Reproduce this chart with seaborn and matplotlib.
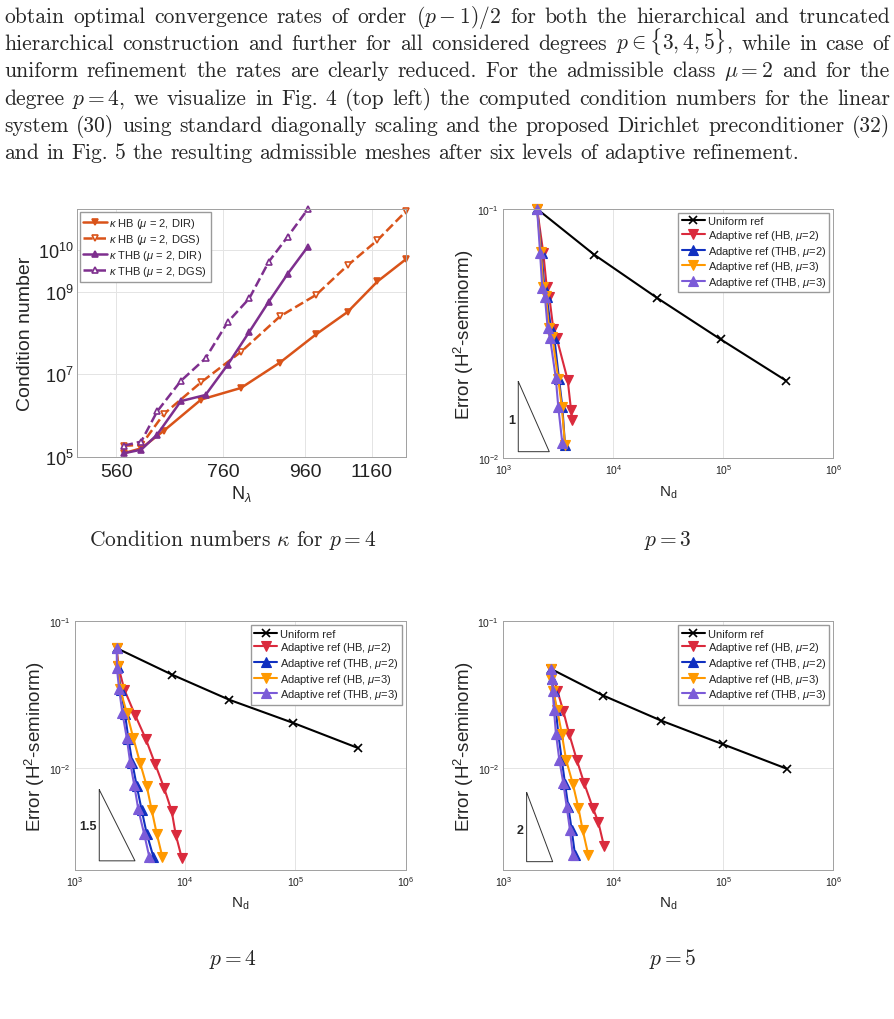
import re

import matplotlib
matplotlib.use("Agg")
import matplotlib.pyplot as plt
import seaborn as sns

# ---------------------------------------------------------------------------
# Condition numbers for p = 4 (top left)
# ---------------------------------------------------------------------------
n_lambda_hb = [572, 601, 641, 713, 799, 893, 990, 1083, 1179, 1278]
n_lambda_thb = [572, 601, 629, 673, 722, 769, 818, 865, 913, 967]
kappa_hb_dir = [1.2e5, 1.58e5, 4.2e5, 2.4e6, 4.6e6, 1.9e7, 9.2e7, 3.2e8, 1.75e9, 6.0e9]
kappa_hb_dgs = [1.83e5, 1.9e5, 1.07e6, 6.3e6, 3.45e7, 2.5e8, 8.3e8, 4.3e9, 1.75e10, 8.7e10]
kappa_thb_dir = [1.2e5, 1.46e5, 3.4e5, 2.2e6, 3.1e6, 1.67e7, 1.05e8, 5.7e8, 2.7e9, 1.23e10]
kappa_thb_dgs = [1.83e5, 2.3e5, 1.24e6, 6.8e6, 2.4e7, 1.8e8, 6.8e8, 5.3e9, 2.15e10, 1.0e11]

# ---------------------------------------------------------------------------
# H2-seminorm errors, p = 3
# ---------------------------------------------------------------------------
uni_n_p3 = [2030, 6700, 24800, 94600, 371500]
uni_e_p3 = [0.1, 0.0656, 0.0441, 0.0300, 0.0205]
hb2_n_p3 = [2030, 2310, 2480, 2620, 2850, 3060, 3850, 4130, 4240]
hb2_e_p3 = [0.1, 0.0666, 0.0488, 0.0445, 0.0330, 0.0303, 0.0206, 0.0156, 0.0142]
thb2_n_p3 = [2030, 2230, 2360, 2480, 2710, 2910, 3210, 3440, 3640]
thb2_e_p3 = [0.1, 0.0666, 0.0485, 0.0445, 0.0333, 0.0304, 0.0208, 0.0161, 0.0113]
hb3_n_p3 = [2030, 2200, 2310, 2440, 2600, 2790, 3160, 3400, 3640]
hb3_e_p3 = [0.1, 0.0670, 0.0485, 0.0449, 0.0333, 0.0306, 0.0208, 0.0161, 0.0113]
thb3_n_p3 = [2030, 2160, 2260, 2390, 2530, 2660, 3000, 3160, 3440]
thb3_e_p3 = [0.1, 0.0666, 0.0482, 0.0445, 0.0333, 0.0304, 0.0210, 0.0161, 0.0115]

# p = 4
uni_n_p4 = [2390, 7540, 25100, 95700, 372000]
uni_e_p4 = [0.0655, 0.0433, 0.0291, 0.0202, 0.0136]
hb2_n_p4 = [2390, 2470, 2800, 3500, 4380, 5320, 6420, 7540, 8200, 9300]
hb2_e_p4 = [0.0655, 0.0493, 0.0342, 0.0230, 0.01576, 0.01065, 0.0073, 0.00504, 0.00349, 0.00242]
thb2_n_p4 = [2390, 2440, 2610, 2840, 3050, 3310, 3630, 4030, 4470, 5140]
thb2_e_p4 = [0.0655, 0.0486, 0.0342, 0.0233, 0.01576, 0.01082, 0.0075, 0.00512, 0.00355, 0.00246]
hb3_n_p4 = [2390, 2440, 2560, 2950, 3380, 3890, 4470, 4970, 5510, 6200]
hb3_e_p4 = [0.0655, 0.0493, 0.0346, 0.0237, 0.01594, 0.01082, 0.0075, 0.00512, 0.00355, 0.00246]
thb3_n_p4 = [2390, 2400, 2510, 2690, 2950, 3160, 3450, 3750, 4230, 4720]
thb3_e_p4 = [0.0655, 0.0478, 0.0346, 0.0237, 0.01594, 0.01094, 0.00757, 0.0052, 0.00355, 0.00246]

# p = 5
uni_n_p5 = [2710, 8110, 27100, 100000, 377000]
uni_e_p5 = [0.0473, 0.0311, 0.0210, 0.01442, 0.00984]
hb2_n_p5 = [2710, 3100, 3510, 3980, 4650, 5420, 6500, 7300, 8230]
hb2_e_p5 = [0.0473, 0.0336, 0.0244, 0.0169, 0.01134, 0.00787, 0.00534, 0.00426, 0.00291]
thb2_n_p5 = [2710, 2750, 2890, 3010, 3160, 3400, 3640, 3900, 4190, 4490]
thb2_e_p5 = [0.0473, 0.0404, 0.0336, 0.0246, 0.01705, 0.01134, 0.00778, 0.0054, 0.00374, 0.00253]
hb3_n_p5 = [2710, 2730, 2850, 3100, 3400, 3720, 4280, 4810, 5270, 5930]
hb3_e_p5 = [0.0473, 0.0404, 0.0336, 0.0246, 0.01705, 0.01134, 0.00778, 0.00534, 0.00374, 0.00253]
thb3_n_p5 = [2710, 2750, 2810, 2890, 3010, 3230, 3510, 3770, 4040, 4280]
thb3_e_p5 = [0.0473, 0.0404, 0.0336, 0.0246, 0.01705, 0.01134, 0.00787, 0.0054, 0.00374, 0.00253]

# slope triangles: (x_left, x_right, y_bottom, rate)
tri_p3 = (1368, 2618, 0.01063, 1.0)
tri_p4 = (1660, 3500, 0.00231, 1.5)
tri_p5 = (1630, 2810, 0.00228, 2.0)

series_labels = ["Adaptive ref (HB, $\\mu$=2)", "Adaptive ref (THB, $\\mu$=2)",
                 "Adaptive ref (HB, $\\mu$=3)", "Adaptive ref (THB, $\\mu$=3)"]

body_lines = [
    "obtain optimal convergence rates of order $(p-1)/2$ for both the hierarchical and truncated",
    "hierarchical construction and further for all considered degrees $p \\in \\{3,4,5\\}$, while in case of",
    "uniform refinement the rates are clearly reduced. For the admissible class $\\mu = 2$ and for the",
    "degree $p = 4$, we visualize in Fig. 4 (top left) the computed condition numbers for the linear",
    "system (30) using standard diagonally scaling and the proposed Dirichlet preconditioner (32)",
    "and in Fig. 5 the resulting admissible meshes after six levels of adaptive refinement.",
]

C_HB, C_THB = "#D95319", "#7E2F8E"
C_RED, C_BLUE, C_ORANGE, C_PURPLE = "#DA2A3C", "#1030C0", "#FF9900", "#7B5BD8"

FIG_W, FIG_H = 895, 1020
BODY_FS = 15.5

sns.set_style("white")
plt.rcParams["font.family"] = ["Liberation Sans", "DejaVu Sans"]
plt.rcParams["mathtext.fontset"] = "custom"
plt.rcParams["mathtext.rm"] = "Liberation Sans"
plt.rcParams["mathtext.it"] = "Liberation Sans:italic"

fig = plt.figure(figsize=(FIG_W / 100, FIG_H / 100), dpi=100)


def px_axes(left, top, right, bottom):
    return fig.add_axes([left / FIG_W, 1 - bottom / FIG_H,
                         (right - left) / FIG_W, (bottom - top) / FIG_H])


def style_axes(ax, labelsize):
    ax.set_xscale("log")
    ax.set_yscale("log")
    ax.grid(True, which="major", color="#e4e4e4", linewidth=0.7)
    for s in ax.spines.values():
        s.set_color("#a0a0a0")
        s.set_linewidth(0.7)
    ax.tick_params(direction="in", length=3, color="#777777", labelsize=labelsize,
                   pad=3, labelcolor="#222222")


# ---------------- condition numbers ----------------
ax_k = px_axes(76.7, 210, 405.7, 457.5)
style_axes(ax_k, 13)
for n, k, c, m, ls, fill, lab in [
    (n_lambda_hb, kappa_hb_dir, C_HB, "v", "-", True, "$\\kappa$ HB ($\\mu$ = 2, DIR)"),
    (n_lambda_hb, kappa_hb_dgs, C_HB, "v", "--", False, "$\\kappa$ HB ($\\mu$ = 2, DGS)"),
    (n_lambda_thb, kappa_thb_dir, C_THB, "^", "-", True, "$\\kappa$ THB ($\\mu$ = 2, DIR)"),
    (n_lambda_thb, kappa_thb_dgs, C_THB, "^", "--", False, "$\\kappa$ THB ($\\mu$ = 2, DGS)"),
]:
    sns.lineplot(x=n, y=k, ax=ax_k, color=c, linestyle=ls, linewidth=1.8,
                 marker=m, markersize=4.5, markeredgecolor=c, markeredgewidth=1.2,
                 markerfacecolor=c if fill else "white", label=lab,
                 estimator=None, sort=False, clip_on=False)
ax_k.set_xlim(500, 1278)
ax_k.set_ylim(1e5, 1e11)
ax_k.set_xticks([560, 760, 960, 1160], labels=["560", "760", "960", "1160"])
ax_k.set_yticks([1e5, 1e7, 1e9, 1e10])
ax_k.minorticks_off()
ax_k.tick_params(axis="x", pad=5, labelsize=14)
ax_k.tick_params(axis="y", pad=2)
ax_k.set_ylabel("Condition number", fontsize=14)
ax_k.yaxis.set_label_coords(-0.13, 0.5)
ax_k.set_xlabel("N$_\\lambda$", fontsize=13)
ax_k.xaxis.set_label_coords(0.5, -0.108)
ax_k.legend(loc="upper left", fontsize=8, frameon=True, fancybox=False,
            edgecolor="#9a9a9a", framealpha=1, borderaxespad=0.3, borderpad=0.3,
            labelspacing=0.2, handlelength=2.1, handletextpad=0.25)


# ---------------- convergence plots ----------------
def convergence(ax, uni_n, uni_e, series, tri, tri_label, label_xy, ylim, ylab_x):
    style_axes(ax, 7.5)
    sns.lineplot(x=uni_n, y=uni_e, ax=ax, color="black", linewidth=1.5,
                 marker="x", markersize=6, markeredgecolor="black",
                 markeredgewidth=1.2, label="Uniform ref", estimator=None, sort=False)
    for (n, e), c, m, lab in zip(series, [C_RED, C_BLUE, C_ORANGE, C_PURPLE],
                                 ["v", "^", "v", "^"], series_labels):
        sns.lineplot(x=n, y=e, ax=ax, color=c, linewidth=1.5, marker=m,
                     markersize=7.5, markeredgecolor=c, markeredgewidth=0.8,
                     label=lab, estimator=None, sort=False, clip_on=False)
    x0, x1, y0, rate = tri
    y1 = y0 * (x1 / x0) ** rate
    ax.plot([x0, x0, x1, x0], [y1, y0, y0, y1], color="#333333", linewidth=0.7)
    ax.text(label_xy[0], label_xy[1], tri_label, fontsize=9, fontweight="bold",
            ha="right", va="center")
    ax.set_xlim(1e3, 1e6)
    ax.set_ylim(*ylim)
    ax.set_xticks([1e3, 1e4, 1e5, 1e6])
    ax.set_yticks([t for t in [1e-3, 1e-2, 1e-1] if ylim[0] <= t <= ylim[1]])
    ax.minorticks_off()
    ax.set_ylabel("Error (H$^2$-seminorm)", fontsize=13.5)
    ax.yaxis.set_label_coords(ylab_x, 0.5)
    ax.set_xlabel("N$_{\\rm d}$", fontsize=11)
    ax.xaxis.set_label_coords(0.5, -0.1)
    ax.legend(loc="upper right", fontsize=8, frameon=True, fancybox=False,
              edgecolor="#9a9a9a", framealpha=1, borderaxespad=0.35, borderpad=0.3,
              labelspacing=0.15, handlelength=2.1, handletextpad=0.25)


ax3 = px_axes(503.3, 210, 833.3, 459.3)
convergence(ax3, uni_n_p3, uni_e_p3,
            [(hb2_n_p3, hb2_e_p3), (thb2_n_p3, thb2_e_p3),
             (hb3_n_p3, hb3_e_p3), (thb3_n_p3, thb3_e_p3)],
            tri_p3, "1", (1290, 0.0143), (1e-2, 1e-1), -0.083)

ax4 = px_axes(75, 622.3, 405.7, 871)
convergence(ax4, uni_n_p4, uni_e_p4,
            [(hb2_n_p4, hb2_e_p4), (thb2_n_p4, thb2_e_p4),
             (hb3_n_p4, hb3_e_p4), (thb3_n_p4, thb3_e_p4)],
            tri_p4, "1.5", (1590, 0.0040), (2e-3, 1e-1), -0.086)

ax5 = px_axes(503.3, 622.3, 833.3, 871)
convergence(ax5, uni_n_p5, uni_e_p5,
            [(hb2_n_p5, hb2_e_p5), (thb2_n_p5, thb2_e_p5),
             (hb3_n_p5, hb3_e_p5), (thb3_n_p5, thb3_e_p5)],
            tri_p5, "2", (1520, 0.00378), (2e-3, 1e-1), -0.083)


# ---------------- page text ----------------
renderer = fig.canvas.get_renderer()


def page_text(x_px, baseline_px, s, ha="left"):
    return fig.text(x_px / FIG_W, 1 - baseline_px / FIG_H, s, fontsize=BODY_FS,
                    family="cmr10", math_fontfamily="cm", va="baseline", ha=ha)


def put_line(line, baseline_px, justify, left=4, right=890):
    words = re.findall(r"\$[^$]*\$\S*|\S+", line)
    arts = [page_text(0, baseline_px, w) for w in words]
    widths = [a.get_window_extent(renderer).width for a in arts]
    if justify:
        gap = (right - left - sum(widths)) / (len(words) - 1)
    else:
        gap = BODY_FS * 100 / 72 * 0.33
    x = left
    for a, w in zip(arts, widths):
        a.set_x(x / FIG_W)
        x += w + gap


for i, line in enumerate(body_lines):
    put_line(line, 22.7 + 27.3 * i, justify=i < len(body_lines) - 1)

page_text(233, 546, "Condition numbers $\\kappa$ for $p = 4$", ha="center")
page_text(668, 546, "$p = 3$", ha="center")
page_text(233, 965, "$p = 4$", ha="center")
page_text(673, 965, "$p = 5$", ha="center")

fig.savefig("out.png", dpi=100)
